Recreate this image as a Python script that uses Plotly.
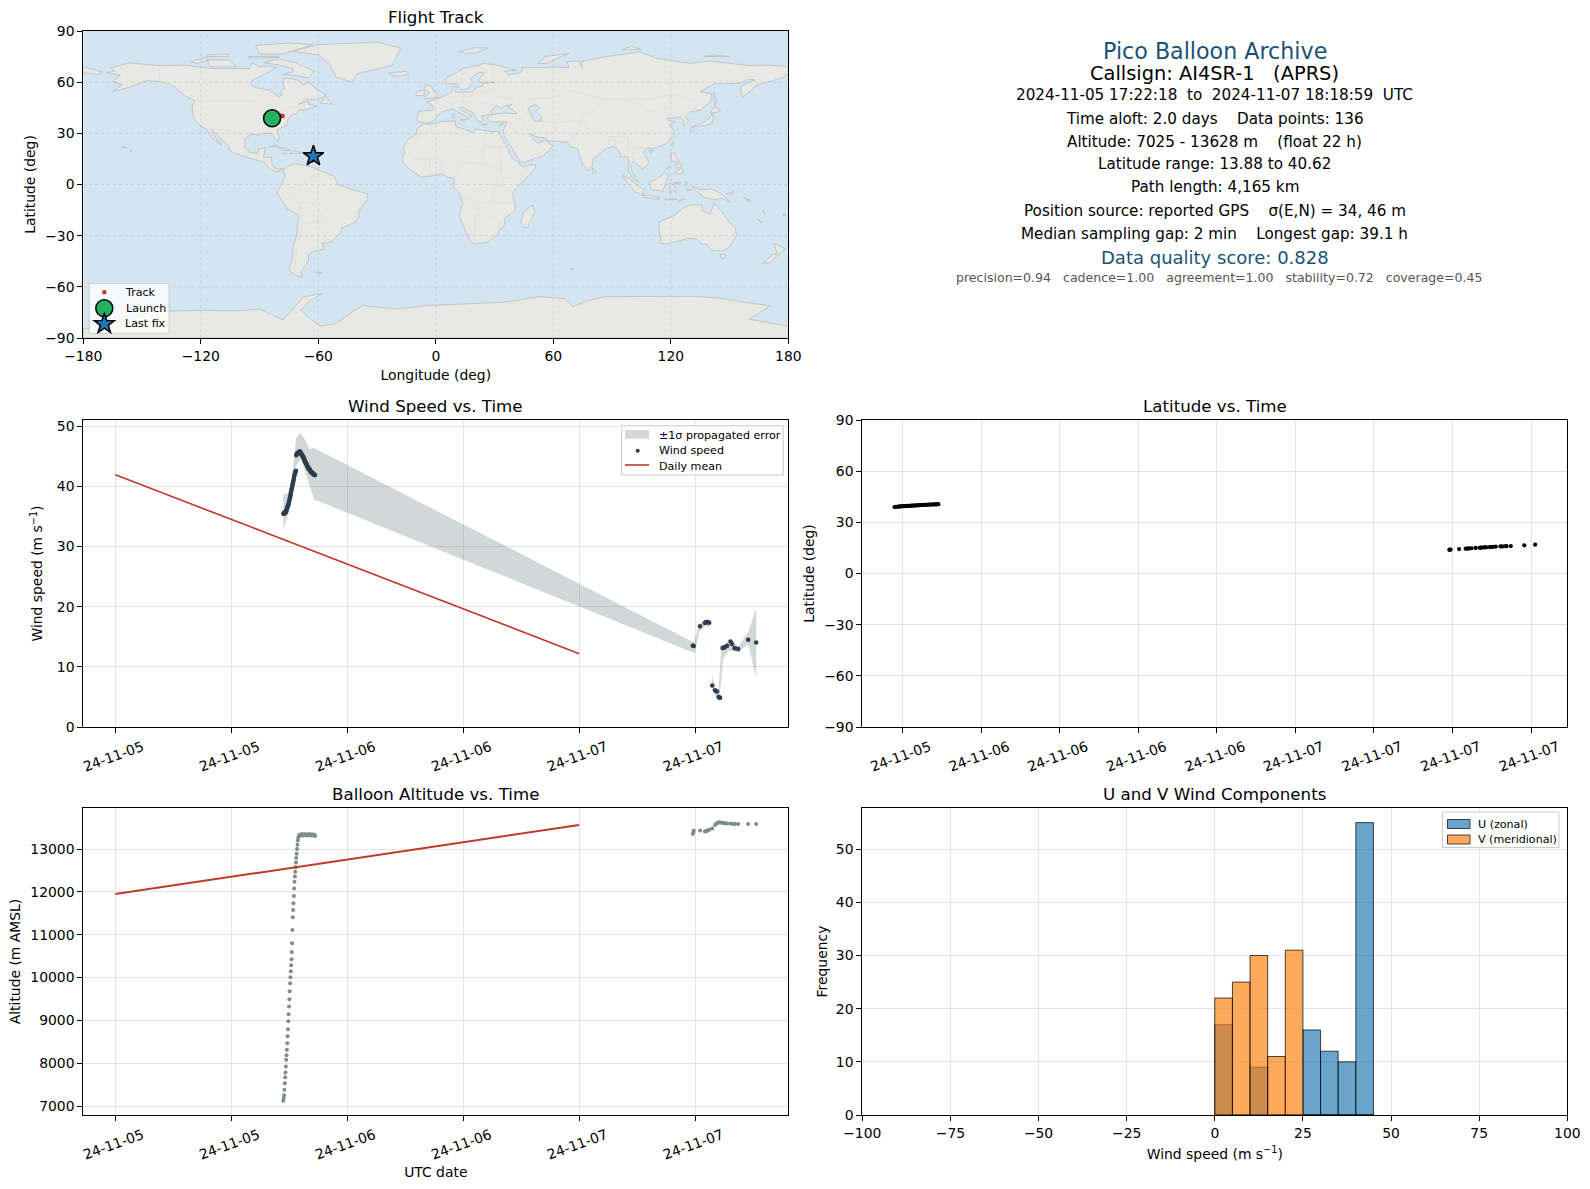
import math
import pandas as pd
import plotly.graph_objects as go

W = 1590
H = 1189
FONT = "DejaVu Sans"

# time axis: hours after 2024-11-05 00:00 UTC
t0 = pd.Timestamp("2024-11-05 00:00:00")

# ---- wind / altitude time series ----
ascent_hours = [17.38,17.42,17.46,17.49,17.53,17.57,17.60,17.64,17.68,17.71,17.75,17.79,17.82,17.86,17.90,
                17.93,17.97,18.01,18.04,18.08,18.12,18.15,18.19,18.23,18.26,18.29,18.32,18.36,18.39,18.43,
                18.47,18.50,18.54,18.58,18.61,18.65,18.69,18.72,18.76,18.80,18.84,18.88,18.93,19.00]
ascent_wind = [35.5,35.5,35.6,35.5,35.7,35.6,35.8,35.7,36.0,36.0,36.3,36.5,36.6,36.8,37.0,
               37.1,37.4,37.7,38.0,38.2,38.5,38.8,39.1,39.4,39.7,39.9,40.2,40.4,40.7,41.0,
               41.3,41.6,41.9,42.1,42.3,42.5,42.6,45.2,45.4,45.5,45.5,45.6,45.6,45.7]
ascent_alt = [7120,7185,7252,7377,7533,7673,7782,7922,8078,8187,8311,8467,8631,8794,8981,
              9145,9324,9495,9682,9869,10009,10150,10290,10430,10594,10804,11108,11411,11575,11738,
              11902,12081,12237,12361,12470,12579,12688,12790,12891,13000,13101,13202,13265,13312]

float_hours = [19.08,19.11,19.15,19.18,19.21,19.25,19.28,19.31,19.35,19.38,19.42,19.45,19.48,19.52,19.55,19.58,
               19.62,19.65,19.68,19.72,19.75,19.79,19.82,19.85,19.89,19.92,19.95,19.99,20.02,20.05,20.09,20.12,
               20.16,20.19,20.22,20.26,20.29,20.32,20.36,20.39,20.42,20.46,20.49,20.53,20.56,20.59,20.63,20.66]
float_wind = [45.8,45.8,45.7,45.6,45.5,45.4,45.3,45.2,45.2,45.0,45.0,44.9,44.7,44.6,44.5,44.3,
              44.2,44.1,44.0,43.9,43.8,43.7,43.5,43.4,43.3,43.2,43.1,43.0,42.9,43.0,42.8,42.7,
              42.7,42.5,42.5,42.4,42.4,42.3,42.3,42.2,42.2,42.1,42.1,42.0,42.0,41.9,41.9,41.9]
float_alt = [13330,13335,13323,13340,13327,13333,13345,13320,13330,13337,13325,13343,13333,13321,13335,13330,
             13347,13327,13335,13323,13340,13333,13325,13338,13331,13320,13341,13333,13327,13345,13323,13335,
             13330,13340,13325,13333,13317,13335,13331,13343,13325,13321,13337,13330,13323,13335,13327,13305]

tail_hours = [59.75,59.80,59.85,60.50,61.00,61.10,61.20,61.30,61.45,61.76,62.05,62.15,62.25,62.42,
              62.50,62.58,62.83,62.95,63.07,63.30,63.66,63.80,64.07,64.12,64.45,65.48,66.31]
tail_wind = [13.5,13.5,13.45,16.74,17.3,17.4,17.4,17.45,17.35,6.9,6.1,6.0,5.9,5.0,
             4.9,4.85,13.15,13.2,13.26,13.5,14.2,13.8,13.15,13.1,12.98,14.5,14.04]
tail_alt = [13355,13390,13433,13433,13409,13415,13430,13435,13450,13480,13565,13590,13604,13620,
            13628,13620,13612,13608,13604,13598,13598,13592,13588,13592,13588,13588,13588]

band_upper_hours = [17.38,17.73,18.07,18.42,18.69,18.94,19.18,19.62,20.07,20.56,59.80,60.14,60.48,61.00,61.45,
                    61.69,62.03,62.38,62.72,63.07,63.59,64.45,65.48,66.31]
band_upper = [38.9,38.6,39.7,43.3,48.0,48.4,48.9,47.8,46.2,46.4,14.1,15.5,17.2,17.87,17.87,
              8.8,6.8,5.4,13.54,13.82,14.66,13.37,15.79,19.72]
band_lower_hours = [17.38,17.73,18.07,18.42,18.69,19.18,19.62,20.07,20.56,59.97,60.41,61.00,61.52,
                    61.76,62.03,62.48,62.90,63.41,63.93,64.45,65.48,66.31]
band_lower = [32.83,34.4,36.6,40.0,43.3,44.7,42.8,40.3,37.85,12.25,15.79,16.8,16.63,
              6.24,5.4,4.27,11.29,12.7,12.7,12.4,13.82,8.09]

mean_hours = [0, 48]
mean_wind = [41.95, 12.2]
mean_alt = [11950, 13565]

# ---- latitude ----
lat_a_hours = [17.38,17.48,17.58,17.68,17.78,17.88,17.98,18.08,18.18,18.28,18.38,18.48,18.58,18.68,18.78,18.88,18.98,
               19.08,19.18,19.28,19.38,19.48,19.58,19.68,19.78,19.88,19.98,20.08,20.18,20.28,20.38,20.48,20.58,20.66,20.73]
lat_a = [39.0,39.1,39.15,39.2,39.3,39.3,39.4,39.45,39.5,39.55,39.6,39.6,39.7,39.75,39.8,39.85,39.9,
         39.9,40.0,40.05,40.1,40.15,40.2,40.25,40.3,40.3,40.35,40.4,40.45,40.45,40.5,40.5,40.55,40.6,40.62]
lat_tail = [13.88,13.95,14.0,14.3,14.55,14.6,14.65,14.7,14.8,15.0,15.1,15.15,15.2,15.3,
            15.35,15.4,15.5,15.55,15.6,15.7,15.85,15.9,16.0,16.0,16.1,16.5,16.9]

# ---- histogram ----
bin_left = [0, 5, 10, 15, 20, 25, 30, 35, 40]
u_counts = [17, 0, 9, 0, 0, 16, 12, 10, 55]
v_counts = [22, 25, 30, 11, 31, 0, 0, 0, 0]

# ---- ticks ----
wind_tick_hours = [0, 12, 24, 36, 48, 60]
wind_tick_text = ["24-11-05", "24-11-05", "24-11-06", "24-11-06", "24-11-07", "24-11-07"]
lat_tick_hours = [18, 24, 30, 36, 42, 48, 54, 60, 66]
lat_tick_text = ["24-11-05", "24-11-06", "24-11-06", "24-11-06", "24-11-06",
                 "24-11-07", "24-11-07", "24-11-07", "24-11-07"]

# ---- map markers ----
track_lon = [-83.6, -82.8, -81.8, -80.8, -79.8, -79.0, -78.2, -63.4, -63.0, -62.7, -62.5, -62.3, -62.4, -62.5]
track_lat = [38.8, 39.2, 39.5, 39.8, 40.1, 40.3, 40.2, 13.9, 14.3, 14.7, 15.1, 15.5, 16.0, 16.7]
launch_lon = [-83.6]
launch_lat = [38.8]
last_lon = [-62.5]
last_lat = [16.7]

# ---- coastlines, (lon, lat) ----
north_america = [(-168,65.5),(-164,66.5),(-166,68.5),(-156.5,71.3),(-141,69.7),(-128,70),(-115,68),(-108,68),(-95,68),
    (-94,71.5),(-90,69),(-85,69.5),(-81.5,68.5),(-87,65),(-94,61),(-94.5,58.7),(-92.5,57),(-85,55.3),(-82,53),(-80,51.3),
    (-79,52),(-79,55),(-77,56.5),(-78,58.5),(-78,62.4),(-73,62),(-70,61),(-68,58.5),(-65,60),(-61.5,56.5),(-56,52.5),
    (-60,50),(-66,50),(-70,47),(-65,49),(-65,47),(-61,46),(-66,44),(-70,43.5),(-71,41.5),(-74,40.5),(-75.5,38),(-76,35),
    (-81,32),(-80,27),(-80.5,25.2),(-82,27),(-84,30),(-89,30),(-90,29),(-94,29.5),(-97.3,27),(-97.8,22.5),(-95,18.5),
    (-91,18.5),(-90.5,21),(-87,21.5),(-88,16),(-84,15.8),(-83.5,11),(-81,9),(-78,9.3),(-77.3,8),(-79.5,8.8),(-80.5,7.3),
    (-83,8.3),(-85.7,10),(-87.5,13),(-92,14.5),(-96,15.8),(-102,18),(-105.5,20),(-105.5,22.5),(-109,26),(-112.5,30),
    (-114.7,31.7),(-112.5,27.5),(-109.5,23),(-112,25),(-115,28.5),(-117.2,32.5),(-120.5,34.5),(-124,40),(-124.5,46),
    (-123,49),(-128,52),(-131,55),(-135,58.5),(-140,60),(-147,61),(-152,59),(-158,56.5),(-165,54.5),(-160,58.5),
    (-165,60.5),(-161,64),(-168,65.5)]
baffin = [(-80,73.5),(-72,71.5),(-67,69),(-62,66.5),(-65,62.5),(-72,64),(-78,64.5),(-73,66),(-73,68),(-80,70),(-88,71.5),(-80,73.5)]
victoria = [(-117,73),(-105,73),(-102,69),(-115,69),(-117,73)]
ellesmere = [(-90,76.5),(-78,76.5),(-63,82),(-75,83),(-92,81.5),(-90,76.5)]
banks = [(-125,72),(-118,74.5),(-116,73),(-122,71),(-125,72)]
devon = [(-96,75),(-80,75),(-80,74.5),(-93,74),(-96,75)]
melville = [(-117,76),(-106,76.5),(-106,75),(-117,75),(-117,76)]
newfoundland = [(-59,47.7),(-56,51.5),(-53,47),(-59,47.7)]
greenland = [(-73,78),(-60,76),(-54,70),(-51,63),(-43,60),(-40,65),(-22,70),(-20,75),(-18,80),(-30,83.5),(-60,82),(-73,78)]
iceland = [(-24,65.5),(-15,66.3),(-13.5,65),(-18,63.4),(-22.5,64),(-24,65.5)]
cuba = [(-85,21.9),(-82,23.1),(-77,21),(-74.2,20.2),(-77.7,19.9),(-78.5,21),(-82,22.3),(-85,21.9)]
hispaniola = [(-74.4,18.5),(-73,19.9),(-68.4,18.6),(-71,18),(-74.4,18.5)]
jamaica = [(-78.3,18.3),(-76.3,18),(-77,17.8),(-78.3,18.3)]
puerto_rico = [(-67.2,18.4),(-65.7,18.3),(-66,18),(-67.2,18.4)]
hawaii = [(-155.8,20.2),(-155,19.7),(-155.7,19),(-155.8,20.2)]
oahu = [(-160,22.2),(-157.8,21.6),(-158,21.2),(-160,22.2)]
south_america = [(-78,9),(-75,11),(-71.5,12.3),(-64,10.5),(-60,8.5),(-52,5),(-50,0),(-44,-2.5),(-35,-5.5),(-35,-9),(-39,-15),
    (-39.5,-19),(-41,-22),(-48,-25.5),(-48.5,-28),(-53.5,-34),(-58,-34.5),(-57,-38),(-62,-39),(-65,-41),(-65,-45),(-69,-51),
    (-68,-54.5),(-72,-53),(-75,-50),(-73,-42),(-73,-37),(-71,-30),(-70,-18),(-76,-14),(-81,-5),(-80,-2),(-77,4),(-77.5,8),(-78,9)]
falklands = [(-61,-51.5),(-58,-51.5),(-59,-52.3),(-61,-51.5)]
africa = [(-5.9,35.8),(-2,35.2),(3,36.9),(10,37.3),(10.2,34),(15,32.3),(19,30.3),(20,32.7),(25,31.7),(29,31),(32.3,31.2),
    (32.5,29.9),(34,26.5),(37,21),(37.5,18),(39.5,15),(43,12),(44,10.5),(51,11.8),(51,10),(47,4.5),(41.5,-1.5),(39,-5),
    (40.5,-11),(40.5,-15),(35,-20),(35.5,-24),(32.8,-26),(31,-30),(26,-34),(20,-34.8),(18.3,-34),(15,-27),(12,-18),
    (13.8,-11),(12,-5),(9,-1),(9.5,3.5),(6,4.3),(3,6.3),(-2,5),(-7.5,4.4),(-13,8.5),(-16.7,12.5),(-17.3,14.7),(-16,19),
    (-17,21),(-14.5,26),(-10,29.5),(-9.5,32.5),(-5.9,35.8)]
eurasia = [(-9,37),(-9.5,38.7),(-9,43),(-2,43.4),(-1,46),(-4.5,48.4),(1.5,50.5),(4,52),(8,54),(8.5,57),(10.5,57.5),(10,54.5),
    (14,54),(19,54.5),(21,57),(24,57.5),(24,59.3),(30,60),(23,60),(21.5,61),(25,65.5),(22,65.8),(17.5,62),(18.8,60),
    (16.5,56.3),(13,55.5),(11,59),(5.5,59),(5,62),(14,68),(25,71),(31,70),(41,67),(35,66.5),(37,64),(44,66),(44,68.5),
    (54,68.5),(60,69),(68,68.5),(67,72),(73,72.5),(75,68),(74,72),(81,73.5),(87,75),(104,77.7),(113,74),(130,71),(140,72.5),
    (160,69.7),(170,70),(180,69),(180,65),(177,62.5),(170,60),(163.5,58),(162,56),(158.5,52.9),(156.7,51),(155.7,55),
    (156,57.5),(163,61.5),(160,61.7),(155,59.3),(142,59),(135,54.5),(141,53),(140,48),(135,43.5),(130,42.5),(127.5,39.5),
    (129.3,37),(126.5,34.5),(126.5,37),(125,39.7),(121.5,38.9),(118,39),(119,37.3),(122.5,37),(119.5,35),(122,31),(121,28),
    (117,23.5),(113.5,22.2),(110,21),(108,21.5),(106,19),(109,13),(106.7,10),(105,8.7),(104.8,10),(100.8,13.5),(99.5,11),
    (100.3,7),(103.5,1.5),(101,3),(98.3,8),(98.5,14),(97.5,16.5),(94.5,16),(94,19),(91,22.5),(87,21),(80.3,15),(80,11),
    (77.5,8),(75,12),(73,18),(72.5,21),(69,22),(67,25),(61.5,25.2),(57,25.8),(56.5,27),(51,28),(48,30),(50,26.5),(52,24.2),
    (56,26),(59.8,22.5),(55,17),(45,13),(43,13),(39,21),(35,28),(34.8,29.5),(34.3,31.2),(35.8,35),(36,36.8),(30.5,36.5),
    (27.3,37),(26.2,39.5),(29,41),(35,42),(41.5,41.5),(39,44),(37,45),(38.8,47),(35,46),(33.5,44.4),(31,46.5),(28,43),
    (28.9,41),(26,40.8),(23.5,40.2),(24,38),(22.8,36.5),(21,38),(19.5,41),(19,42),(14,45),(12.4,45.3),(12.5,44),(18.5,40),
    (16.5,39),(16,38),(15.8,40),(11,42.5),(9,44.3),(5,43.3),(3,42),(0,39.5),(-0.5,38),(-2,36.8),(-5.5,36),(-9,37)]
chukotka = [(-180,69),(-175,67.5),(-170,66),(-173,64.3),(-178,65.5),(-180,65),(-180,69)]
britain = [(-5.5,50),(1.3,51.2),(1.5,52.8),(-1.5,55),(-2,57.5),(-5,58.6),(-6,56),(-3,54),(-5,52),(-5.5,50)]
ireland = [(-10,52),(-6,52.2),(-5.7,54.8),(-8,55.3),(-10,54),(-10,52)]
svalbard = [(12,78),(20,80.2),(27,80),(20,77),(15,77),(12,78)]
novaya_zemlya = [(52,71),(56,75),(68,77),(62,74),(57,71),(52,71)]
severnaya = [(95,79),(105,79),(100,81),(95,79)]
new_siberian = [(137,75),(150,75),(142,76),(137,75)]
sakhalin = [(142,54),(143.5,49),(142.5,46),(142,50),(142,54)]
hokkaido = [(140,42),(142,45.5),(145.5,43.5),(143,42),(140,42)]
honshu = [(130.9,34),(136,36),(139.5,38.5),(141,41.5),(142,39.5),(140.5,35.5),(137,34.5),(133,34),(130.9,34)]
kyushu = [(130,33.5),(132,33.5),(131,31),(130,31.5),(130,33.5)]
taiwan = [(120.2,23),(121.5,25.2),(121,22),(120.2,23)]
hainan = [(109,20),(111,19.7),(109.5,18.3),(109,20)]
luzon = [(120,18.5),(122.2,18.3),(124,13),(120.5,13.8),(120,16),(120,18.5)]
mindanao = [(122,7),(125.5,9.7),(126.5,7),(124,6),(122,7)]
visayas = [(122,11.7),(125.5,12.5),(125,10),(123,9.5),(122,11.7)]
palawan = [(117.3,8.5),(119.5,11.3),(119.5,10.5),(117.3,8.5)]
borneo = [(109,1.5),(113,3.2),(117,7),(119,5),(117.5,1),(116,-4),(110,-3),(109,1.5)]
sumatra = [(95.2,5.5),(98,4),(103.5,-1),(106,-3),(106,-6),(102,-4.5),(98,1),(95.2,5.5)]
java = [(105.5,-6.5),(110,-6.6),(114.5,-7.7),(114,-8.7),(106,-7.5),(105.5,-6.5)]
sulawesi = [(119.5,0.5),(124.5,1.5),(125,1),(120.5,0),(122,-1),(123,-5),(120.5,-3),(119.5,-5.5),(119.5,0.5)]
new_guinea = [(131,-1),(135,-3),(141,-2.7),(146,-5.5),(150.5,-10.5),(146,-8),(143,-9),(138,-8),(133,-4),(131,-1)]
lesser_sunda = [(117,-8.5),(123,-8.3),(123,-8.8),(117,-9),(117,-8.5)]
timor = [(124,-9.5),(127,-8.4),(124,-10.2),(124,-9.5)]
seram = [(128,-3),(130.8,-3),(130.8,-3.6),(128,-3)]
halmahera = [(127.5,2),(128.7,1),(128,-0.8),(127.5,2)]
new_britain = [(148,-5.5),(152,-4),(151,-6),(148,-5.5)]
solomon = [(157,-7.5),(161,-9.5),(160,-10),(157,-7.5)]
vanuatu = [(167,-15),(168,-17),(167.2,-16.5),(167,-15)]
new_caledonia = [(164,-20),(167,-22),(166,-22.3),(164,-20)]
fiji = [(177.3,-18),(178.5,-17.6),(178.5,-18.3),(177.3,-18)]
australia = [(114,-22),(122,-18),(126,-14),(130,-12),(136,-12),(136,-15),(140,-17.5),(142,-11),(145.5,-15),(149,-21),(153,-25.5),
    (153.5,-30),(150,-37),(146,-39),(141,-38.5),(138,-35),(136,-35),(133,-32),(129,-31.5),(124,-33),(118,-35),(115,-34.5),
    (114,-26),(114,-22)]
tasmania = [(145,-41),(148,-41),(148,-43),(146,-43.5),(145,-41)]
nz_north = [(172.7,-34.5),(178.4,-37.7),(175,-41.5),(174,-39.5),(172.7,-34.5)]
nz_south = [(172.7,-40.5),(174.3,-41.7),(170.5,-46),(167,-46),(172.7,-40.5)]
madagascar = [(49.3,-12),(50.5,-16),(47,-25),(45,-25.5),(43.5,-22),(44.5,-16.5),(49.3,-12)]
sri_lanka = [(80,9.7),(82,7.5),(80.5,6),(79.8,8),(80,9.7)]
kerguelen = [(69,-49),(70.5,-49.5),(69,-50),(69,-49)]
sicily = [(12.5,38),(15.5,38.2),(15,36.7),(12.5,38)]
sardinia = [(8.3,41),(9.7,41),(9.6,39.1),(8.5,39),(8.3,41)]
crete = [(23.6,35.5),(26.3,35.2),(24.7,34.9),(23.6,35.5)]
cyprus = [(32.5,35),(34.5,35.6),(33.5,34.7),(32.5,35)]
antarctica = [(-180,-84.5),(-170,-84),(-160,-80),(-150,-77),(-148,-74.5),(-120,-73.8),(-100,-74),(-90,-73),(-78,-79.4),(-71,-70),
    (-67.6,-66),(-57.4,-63.7),(-64,-68),(-69,-73.5),(-64,-79),(-59,-83),(-50.6,-81.5),(-42,-74),(-37,-71),(-20,-73),(-5,-71),
    (15,-70),(35,-69),(53,-65.7),(66,-67),(70,-71.6),(78,-68),(87,-65.7),(105,-65.5),(135,-65.6),(147,-67),(160,-69.5),(171,-71),
    (164,-76),(160,-79),(180,-83),(180,-90),(-180,-90),(-180,-84.5)]
land_polygons = [north_america, baffin, victoria, ellesmere, banks, devon, melville, newfoundland, greenland, iceland, cuba,
    hispaniola, jamaica, puerto_rico, hawaii, oahu, south_america, falklands, africa, eurasia, chukotka, britain, ireland,
    svalbard, novaya_zemlya, severnaya, new_siberian, sakhalin, hokkaido, honshu, kyushu, taiwan, hainan, luzon, mindanao,
    visayas, palawan, borneo, sumatra, java, sulawesi, new_guinea, lesser_sunda, timor, seram, halmahera, new_britain, solomon,
    vanuatu, new_caledonia, fiji, australia, tasmania, nz_north, nz_south, madagascar, sri_lanka, kerguelen, sicily, sardinia,
    crete, cyprus, antarctica]
caspian = [(47,45),(51,47),(53,45),(51,43),(53.8,40),(54,37),(50,37.3),(49,40),(47.5,43),(47,45)]

border_lines = [
    [(-123,49),(-95,49),(-89,48),(-83,46),(-82.5,42.5),(-79,43),(-75,45),(-70,46),(-67,47.5),(-67,45)],
    [(-141,69.7),(-141,60),(-135,58.5)], [(-117,32.5),(-106.5,31.8),(-101,29.5),(-97.3,26)], [(-92,14.5),(-91,18),(-89,18)],
    [(-71.5,12),(-72,7),(-67.5,6),(-67,1)], [(-60,5),(-64,4),(-67,1),(-70,-4),(-74,-7),(-70,-11),(-65,-10),(-60,-14),(-58,-20),(-55,-24),(-54,-27),(-57.5,-30),(-53.5,-33.5)],
    [(-70,-18),(-68,-23),(-70,-33),(-72,-45),(-72,-52)], [(-80,-3.5),(-75,-1),(-70,-4)], [(-70,-11),(-69,-17),(-68,-23),(-62,-22),(-58,-20)], [(-54,5.5),(-54,2.5),(-51.5,4)],
    [(-13,27.5),(-8.7,27.5),(-8.7,29),(-1,32),(-2,35)], [(-5,25),(12,23.5),(25,20),(25,31.5)], [(25,22),(36.8,22)], [(-12,15),(3,15),(14,13),(24,12),(24,20)],
    [(14,13),(9,4.5)], [(24,12),(33,9),(34,4),(41,4),(48,8),(43,11)], [(34,4),(34,-1),(30,-1),(29,-10),(22,-11),(12,-6)], [(34,-1),(40,-4.5)],
    [(29,-10),(34,-11),(40.5,-10.8)], [(22,-11),(22,-18),(12,-17.3)], [(20,-18),(20,-29),(17,-28.7)], [(25,-18),(33,-22),(32.5,-26)], [(33,9),(33,22)],
    [(-3,5),(-3,15)], [(3,6.3),(3,15)], [(28,60),(28,56),(32,52),(40,50),(38,47)], [(47,42),(47,50),(60,51),(70,55),(85,50),(98,50),(110,50),(120,53),(135,48),(131,43)],
    [(85,50),(80,42),(74,39),(78,33),(88,28),(98,28),(98,24),(102,21),(107,21.5)], [(98,50),(110,42),(120,47),(120,53)], [(62,25),(61,36),(66,37),(74,37),(72,30),(68,24)],
    [(61,36),(54,37.5)], [(44,39),(45,35),(48,30)], [(36,32),(42,37),(44,39)], [(39,32),(48,28)], [(52,24),(55,20),(52,17)], [(91,22),(92,26),(88,26),(88,22)],
    [(98,28),(98,16)], [(101,21),(100,14),(104,15),(107,16)], [(127,38),(124.5,40),(130,42.5)], [(-1.8,43.3),(3,42.5)], [(-7,37),(-7,42),(-9,42)],
    [(3,50.7),(7,47.5),(8,54)], [(14,54),(14,49),(17,48),(24,48),(30,46)], [(14,49),(8,47.5),(7,44)], [(24,48),(22,44),(26,41.5)], [(24,57),(28,56),(24,54),(14,51)],
    [(12,59),(14,65),(20,69),(25,68),(23,66)], [(28,70),(30,60)]]

map_x_ticks = [-180, -120, -60, 0, 60, 120, 180]
map_y_ticks = [-90, -60, -30, 0, 30, 60, 90]

info_lines = [
    ("Pico Balloon Archive", 1214.8, 51, 22.2, "#1a5276"),
    ("Callsign: AI4SR-1\u00a0\u00a0\u00a0(APRS)", 1214.8, 73, 19.4, "#000000"),
    ("2024-11-05 17:22:18\u00a0\u00a0to\u00a0\u00a02024-11-07 18:18:59\u00a0\u00a0UTC", 1214.8, 95.5, 15.2, "#000000"),
    ("Time aloft: 2.0 days\u00a0\u00a0\u00a0\u00a0Data points: 136", 1214.8, 118.5, 15.2, "#000000"),
    ("Altitude: 7025 - 13628 m\u00a0\u00a0\u00a0\u00a0(float 22 h)", 1214.8, 141.5, 15.2, "#000000"),
    ("Latitude range: 13.88 to 40.62", 1214.8, 164, 15.2, "#000000"),
    ("Path length: 4,165 km", 1214.8, 187.5, 15.2, "#000000"),
    ("Position source: reported GPS\u00a0\u00a0\u00a0\u00a0σ(E,N) = 34, 46 m", 1214.8, 211, 15.2, "#000000"),
    ("Median sampling gap: 2 min\u00a0\u00a0\u00a0\u00a0Longest gap: 39.1 h", 1214.8, 234, 15.2, "#000000"),
    ("Data quality score: 0.828", 1214.8, 257.5, 18, "#1a5276"),
    ("precision=0.94\u00a0\u00a0\u00a0cadence=1.00\u00a0\u00a0\u00a0agreement=1.00\u00a0\u00a0\u00a0stability=0.72\u00a0\u00a0\u00a0coverage=0.45", 1219, 278, 12.55, "#555555"),
]


def to_time(hours):
    return [t0 + pd.Timedelta(hours=h) for h in hours]


def dom_x(left, right):
    return [left / W, right / W]


def dom_y(top, bottom):
    return [1 - bottom / H, 1 - top / H]


def paper_rect(left, top, right, bottom, fill, line_color="rgba(0,0,0,0)", line_width=0):
    return dict(type="rect", xref="paper", yref="paper", x0=left / W, x1=right / W, y0=1 - top / H, y1=1 - bottom / H,
                layer="above", fillcolor=fill, line=dict(color=line_color, width=line_width))


def paper_circle(cx, cy, r, fill, line_color="rgba(0,0,0,0)", line_width=0):
    return dict(type="circle", xref="paper", yref="paper", x0=(cx - r) / W, x1=(cx + r) / W, y0=1 - (cy - r) / H,
                y1=1 - (cy + r) / H, layer="above", fillcolor=fill, line=dict(color=line_color, width=line_width))


def paper_star(cx, cy, outer, inner, fill):
    corners = []
    for i in range(10):
        r = outer if i % 2 == 0 else inner
        ang = -math.pi / 2 + i * math.pi / 5
        corners.append(f"{(cx + r * math.cos(ang)) / W},{1 - (cy + r * math.sin(ang)) / H}")
    return dict(type="path", xref="paper", yref="paper", path="M" + " L".join(corners) + " Z", layer="above",
                fillcolor=fill, line=dict(color="black", width=1.5))


fig = go.Figure()

# map
for poly in land_polygons:
    fig.add_trace(go.Scatter(x=[p[0] for p in poly], y=[p[1] for p in poly], mode="lines", fill="toself",
                             fillcolor="#e8e8e4", line=dict(color="#b9bdbf", width=0.8), hoverinfo="skip",
                             xaxis="x", yaxis="y"))
for line in border_lines:
    fig.add_trace(go.Scatter(x=[p[0] for p in line], y=[p[1] for p in line], mode="lines",
                             line=dict(color="#dcdcd8", width=0.7), hoverinfo="skip", xaxis="x", yaxis="y"))
fig.add_trace(go.Scatter(x=[p[0] for p in caspian], y=[p[1] for p in caspian], mode="lines", fill="toself",
                         fillcolor="#d4e5f2", line=dict(color="#b9bdbf", width=0.8), hoverinfo="skip",
                         xaxis="x", yaxis="y"))
fig.add_trace(go.Scatter(x=track_lon, y=track_lat, mode="markers", name="Track",
                         marker=dict(color="#c0392b", size=4.5), xaxis="x", yaxis="y"))
fig.add_trace(go.Scatter(x=launch_lon, y=launch_lat, mode="markers", name="Launch",
                         marker=dict(color="#27ae60", size=17, line=dict(color="black", width=1.5)),
                         xaxis="x", yaxis="y"))
fig.add_trace(go.Scatter(x=last_lon, y=last_lat, mode="markers", name="Last fix",
                         marker=dict(color="#1f77b4", size=15.5, symbol="star", line=dict(color="black", width=1.5)),
                         xaxis="x", yaxis="y"))

# wind speed
wind_hours = ascent_hours + float_hours + tail_hours
wind_values = ascent_wind + float_wind + tail_wind
fig.add_trace(go.Scatter(x=to_time(band_upper_hours + band_lower_hours[::-1]), y=band_upper + band_lower[::-1],
                         mode="lines", fill="toself", fillcolor="rgba(127,140,141,0.35)", line=dict(width=0),
                         name="±1σ propagated error", xaxis="x2", yaxis="y2"))
fig.add_trace(go.Scatter(x=to_time(wind_hours), y=wind_values, mode="markers", name="Wind speed",
                         marker=dict(color="#2c3e50", size=4.5), xaxis="x2", yaxis="y2"))
fig.add_trace(go.Scatter(x=to_time(mean_hours), y=mean_wind, mode="lines", name="Daily mean",
                         line=dict(color="#c0392b", width=1.6), xaxis="x2", yaxis="y2"))

# latitude
fig.add_trace(go.Scatter(x=to_time(lat_a_hours + tail_hours), y=lat_a + lat_tail, mode="markers",
                         marker=dict(color="black", size=4.2), xaxis="x3", yaxis="y3"))

# altitude
fig.add_trace(go.Scatter(x=to_time(wind_hours), y=ascent_alt + float_alt + tail_alt, mode="markers",
                         marker=dict(color="#7f8c8d", size=4), xaxis="x4", yaxis="y4"))
fig.add_trace(go.Scatter(x=to_time(mean_hours), y=mean_alt, mode="lines",
                         line=dict(color="#c0392b", width=2), xaxis="x4", yaxis="y4"))

# histogram
U_FILL = "rgba(31,119,180,0.67)"
V_FILL = "rgba(255,127,14,0.67)"
BAR_EDGE = "rgba(0,0,0,0.7)"
fig.add_trace(go.Bar(x=bin_left, y=u_counts, width=5, offset=0, name="U (zonal)",
                     marker=dict(color=U_FILL, line=dict(color=BAR_EDGE, width=1)), xaxis="x5", yaxis="y5"))
fig.add_trace(go.Bar(x=bin_left, y=v_counts, width=5, offset=0, name="V (meridional)",
                     marker=dict(color=V_FILL, line=dict(color=BAR_EDGE, width=1)), xaxis="x5", yaxis="y5"))

base_axis = dict(showline=True, mirror=True, linecolor="black", linewidth=1, ticks="outside", ticklen=5, tickwidth=1,
                 tickcolor="black", gridcolor="#e4e4e4", gridwidth=1, zeroline=False, showgrid=True, automargin=False,
                 tickfont=dict(family=FONT, size=13.9, color="black"))
title_font = dict(family=FONT, size=13.9, color="black")
date_axis = dict(base_axis, type="date", tickangle=-20, ticklabelshift=27, ticklabelstandoff=1)

wind_range = to_time([-3.316, 69.632])
lat_range = to_time([14.925, 68.763])

layout_axes = dict(
    xaxis=dict(base_axis, domain=dom_x(83.3, 788.3), anchor="y", range=[-180, 180], tickvals=map_x_ticks, showgrid=False,
               title=dict(text="Longitude (deg)", font=title_font, standoff=7)),
    yaxis=dict(base_axis, domain=dom_y(31, 338), anchor="x", range=[-90, 90], tickvals=map_y_ticks, showgrid=False,
               title=dict(text="Latitude (deg)", font=title_font, standoff=6)),
    xaxis2=dict(date_axis, domain=dom_x(83.3, 788.3), anchor="y2", range=wind_range,
                tickvals=to_time(wind_tick_hours), ticktext=wind_tick_text),
    yaxis2=dict(base_axis, domain=dom_y(420, 727), anchor="x2", range=[0, 51.05], dtick=10,
                title=dict(text="Wind speed (m s<sup>−1</sup>)", font=title_font, standoff=10)),
    xaxis3=dict(date_axis, domain=dom_x(862.3, 1567.3), anchor="y3", range=lat_range,
                tickvals=to_time(lat_tick_hours), ticktext=lat_tick_text),
    yaxis3=dict(base_axis, domain=dom_y(420, 727), anchor="x3", range=[-90, 90], tickvals=map_y_ticks,
                title=dict(text="Latitude (deg)", font=title_font, standoff=6)),
    xaxis4=dict(date_axis, domain=dom_x(83.3, 788.3), anchor="y4", range=wind_range,
                tickvals=to_time(wind_tick_hours), ticktext=wind_tick_text,
                title=dict(text="UTC date", font=title_font, standoff=5)),
    yaxis4=dict(base_axis, domain=dom_y(808, 1115), anchor="x4", range=[6790, 13960], dtick=1000, tickformat="d",
                title=dict(text="Altitude (m AMSL)", font=title_font, standoff=6)),
    xaxis5=dict(base_axis, domain=dom_x(862.3, 1567.3), anchor="y5", range=[-100, 100], dtick=25,
                title=dict(text="Wind speed (m s<sup>−1</sup>)", font=title_font, standoff=9)),
    yaxis5=dict(base_axis, domain=dom_y(808, 1115), anchor="x5", range=[0, 57.75], dtick=10,
                title=dict(text="Frequency", font=title_font, standoff=4)),
)

# panel titles and the info block
annotations = []
for text, cx, cy in [("Flight Track", 435.8, 18), ("Wind Speed vs. Time", 435.8, 406.5),
                     ("Latitude vs. Time", 1214.8, 406.5), ("Balloon Altitude vs. Time", 435.8, 794.5),
                     ("U and V Wind Components", 1214.8, 794.5)]:
    annotations.append(dict(text=text, xref="paper", yref="paper", x=cx / W, y=1 - cy / H, xanchor="center",
                            yanchor="middle", showarrow=False, font=dict(family=FONT, size=16.67, color="black")))
for text, cx, cy, size, color in info_lines:
    annotations.append(dict(text=text, xref="paper", yref="paper", x=cx / W, y=1 - cy / H, xanchor="center",
                            yanchor="middle", showarrow=False, font=dict(family=FONT, size=size, color=color)))

# map grid has to sit over the land
shapes = []
for lon in map_x_ticks[1:-1]:
    shapes.append(dict(type="line", xref="x", yref="y", x0=lon, x1=lon, y0=-90, y1=90, layer="above",
                       line=dict(color="rgba(90,90,90,0.14)", width=1, dash="dot")))
for lat in map_y_ticks[1:-1]:
    shapes.append(dict(type="line", xref="x", yref="y", x0=-180, x1=180, y0=lat, y1=lat, layer="above",
                       line=dict(color="rgba(90,90,90,0.14)", width=1, dash="dot")))

# legends drawn by hand: plotly's own rows are too tall for these boxes
LEGEND_BG = "rgba(255,255,255,0.8)"
LEGEND_EDGE = "#cccccc"
shapes += [
    paper_rect(89.3, 283.3, 169, 333.3, LEGEND_BG, LEGEND_EDGE, 1),
    paper_circle(104.3, 292.3, 2.2, "#c0392b"),
    paper_circle(104.3, 308.3, 8.5, "#27ae60", "black", 1.5),
    paper_star(104.3, 324, 10.5, 4.2, "#1f77b4"),
    paper_rect(621.7, 425.7, 783.3, 475, LEGEND_BG, LEGEND_EDGE, 1),
    paper_rect(625, 430, 649, 438.7, "rgba(127,140,141,0.35)"),
    paper_circle(637.7, 450.7, 2, "#2c3e50"),
    dict(type="line", xref="paper", yref="paper", x0=625 / W, x1=649 / W, y0=1 - 465 / H, y1=1 - 465 / H,
         layer="above", line=dict(color="#c0392b", width=1.6)),
    paper_rect(1442.5, 812, 1559, 847.5, LEGEND_BG, LEGEND_EDGE, 1),
    paper_rect(1447.5, 819.5, 1470, 828.5, U_FILL, BAR_EDGE, 1),
    paper_rect(1447.5, 835, 1470, 844, V_FILL, BAR_EDGE, 1),
]
for text, left, cy in [("Track", 124, 292.3), ("Launch", 125.3, 308.3), ("Last fix", 124.3, 323.3),
                       ("±1σ propagated error", 657.7, 435), ("Wind speed", 657.7, 450), ("Daily mean", 657.7, 466),
                       ("U (zonal)", 1477, 824), ("V (meridional)", 1477, 839.5)]:
    annotations.append(dict(text=text, xref="paper", yref="paper", x=left / W, y=1 - cy / H, xanchor="left",
                            yanchor="middle", showarrow=False, borderpad=0,
                            font=dict(family=FONT, size=11.1, color="black")))

fig.update_layout(
    width=W, height=H, margin=dict(l=0, r=0, t=0, b=0), autosize=False,
    paper_bgcolor="white", plot_bgcolor="white", barmode="overlay", hovermode=False, showlegend=False,
    font=dict(family=FONT, color="black"),
    annotations=annotations, shapes=shapes,
    **layout_axes,
)

# ocean background for the map only
fig.add_shape(type="rect", xref="x", yref="y", x0=-180, x1=180, y0=-90, y1=90, layer="below",
              fillcolor="#d4e5f2", line=dict(width=0))

fig.write_html("out.html", config=dict(displayModeBar=False),
               post_script="document.body.style.margin='0';document.body.style.overflow='hidden';")
